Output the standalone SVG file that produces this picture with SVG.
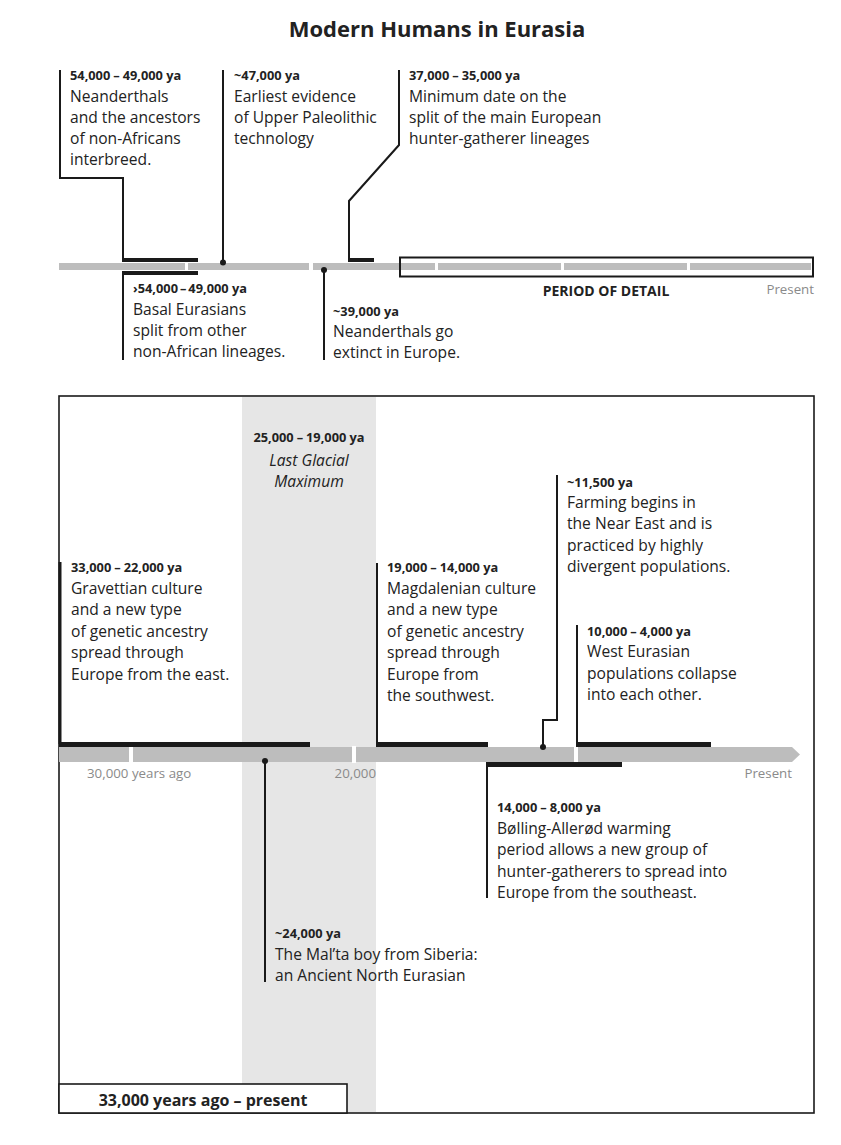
<svg xmlns="http://www.w3.org/2000/svg" width="841" height="1145" viewBox="0 0 841 1145">
<style>
text{font-family:"Open Sans","Noto Sans","Liberation Sans",sans-serif;fill:#222}
.t{font-size:15.6px}
.d{font-size:12.8px;font-weight:bold}
.g{font-size:13.3px;fill:#8a8a8a}
.ttl{font-size:22px;font-weight:bold}
.lead{stroke:#1a1a1a;stroke-width:2;fill:none}
.bar{fill:#bdbdbd}
.blk{fill:#1a1a1a}
.gap{fill:#fff}
</style>
<rect width="841" height="1145" fill="#fff"/>
<text class="ttl" x="437" y="37" text-anchor="middle">Modern Humans in Eurasia</text>

<g id="lower-frame">
<rect x="242" y="397" width="134" height="715" fill="#e6e6e6"/>
<rect x="59" y="396" width="755" height="717" fill="none" stroke="#1a1a1a" stroke-width="1.6"/>
<rect x="59" y="1084" width="288" height="29" fill="#fff" stroke="#1a1a1a" stroke-width="1.6"/>
<text x="203" y="1106" text-anchor="middle" style="font-size:16px;font-weight:bold">33,000 years ago – present</text>
</g>

<g id="top-timeline">
<rect class="bar" x="59" y="263" width="752" height="7"/>
<rect class="gap" x="185" y="262" width="3" height="9"/>
<rect class="gap" x="309" y="262" width="4" height="9"/>
<rect class="gap" x="435" y="262" width="3" height="9"/>
<rect class="gap" x="561" y="262" width="3" height="9"/>
<rect class="gap" x="687" y="262" width="3" height="9"/>
<rect x="400" y="257.5" width="413" height="19" fill="none" stroke="#1a1a1a" stroke-width="2"/>
<text x="606" y="296" text-anchor="middle" style="font-size:14px;font-weight:bold">PERIOD OF DETAIL</text>
<text class="g" x="814" y="294" text-anchor="end">Present</text>
</g>

<g id="bottom-timeline">
<path class="bar" d="M59,747 H792 L800,754.5 L792,762 H59 Z"/>
<rect class="gap" x="129" y="746" width="4" height="17"/>
<rect class="gap" x="352" y="746" width="4" height="17"/>
<rect class="gap" x="574" y="746" width="4" height="17"/>
<text class="g" x="87" y="778">30,000 years ago</text>
<text class="g" x="376" y="778" text-anchor="end">20,000</text>
<text class="g" x="792" y="778" text-anchor="end">Present</text>
</g>

<g id="connectors">
<rect class="blk" x="122" y="258" width="76" height="4"/>
<rect class="blk" x="122" y="271" width="76" height="4"/>
<polyline class="lead" points="60,70 60,178 123,178 123,258"/>
<line class="lead" x1="123" y1="275" x2="123" y2="360"/>
<line class="lead" x1="223" y1="70" x2="223" y2="262"/>
<circle cx="223" cy="262.5" r="3" fill="#1a1a1a"/>
<line class="lead" x1="324" y1="270" x2="324" y2="360"/>
<circle cx="324" cy="270" r="3" fill="#1a1a1a"/>
<rect class="blk" x="348" y="258" width="26" height="4"/>
<polyline class="lead" points="399,70 399,145 349,201 349,259"/>
<rect class="blk" x="59" y="742" width="251" height="5"/>
<line x1="60" y1="562" x2="60" y2="744" stroke="#1a1a1a" stroke-width="3"/>
<rect class="blk" x="376" y="742" width="112" height="5"/>
<line class="lead" x1="377" y1="563" x2="377" y2="744"/>
<polyline class="lead" points="557,475 557,720 543,720 543,747"/>
<circle cx="543" cy="747" r="3" fill="#1a1a1a"/>
<rect class="blk" x="576" y="742" width="135" height="5"/>
<line class="lead" x1="577" y1="625" x2="577" y2="744"/>
<rect class="blk" x="486" y="762" width="136" height="5"/>
<line class="lead" x1="487" y1="764" x2="487" y2="898"/>
<line class="lead" x1="265" y1="761" x2="265" y2="982"/>
<circle cx="265" cy="761" r="3" fill="#1a1a1a"/>
</g>

<g id="n-interbreed">
<text class="d" x="70" y="80">54,000<tspan dx="3">–</tspan><tspan dx="3">49,000 ya</tspan></text>
<text class="t" x="70" y="102">Neanderthals</text>
<text class="t" x="70" y="123">and the ancestors</text>
<text class="t" x="70" y="144">of non-Africans</text>
<text class="t" x="70" y="165">interbreed.</text>
</g>
<g id="n-upper-paleolithic">
<text class="d" x="234" y="80">~47,000 ya</text>
<text class="t" x="234" y="102">Earliest evidence</text>
<text class="t" x="234" y="123">of Upper Paleolithic</text>
<text class="t" x="234" y="144">technology</text>
</g>
<g id="n-split-european">
<text class="d" x="409" y="80">37,000<tspan dx="3">–</tspan><tspan dx="3">35,000 ya</tspan></text>
<text class="t" x="409" y="102">Minimum date on the</text>
<text class="t" x="409" y="123">split of the main European</text>
<text class="t" x="409" y="144">hunter-gatherer lineages</text>
</g>
<g id="n-basal">
<text class="d" x="133" y="293">›54,000<tspan dx="2">–</tspan><tspan dx="2">49,000 ya</tspan></text>
<text class="t" x="133" y="315">Basal Eurasians</text>
<text class="t" x="133" y="336">split from other</text>
<text class="t" x="133" y="357">non-African lineages.</text>
</g>
<g id="n-extinct">
<text class="d" x="333" y="316">~39,000 ya</text>
<text class="t" x="333" y="337">Neanderthals go</text>
<text class="t" x="333" y="358">extinct in Europe.</text>
</g>

<g id="n-lgm">
<text class="d" x="309" y="442" text-anchor="middle">25,000<tspan dx="3">–</tspan><tspan dx="3">19,000 ya</tspan></text>
<text class="t" x="309" y="466" text-anchor="middle" font-style="italic">Last Glacial</text>
<text class="t" x="309" y="487" text-anchor="middle" font-style="italic">Maximum</text>
</g>
<g id="n-gravettian">
<text class="d" x="71" y="572">33,000<tspan dx="3">–</tspan><tspan dx="3">22,000 ya</tspan></text>
<text class="t" x="71" y="594">Gravettian culture</text>
<text class="t" x="71" y="615">and a new type</text>
<text class="t" x="71" y="637">of genetic ancestry</text>
<text class="t" x="71" y="658">spread through</text>
<text class="t" x="71" y="680">Europe from the east.</text>
</g>
<g id="n-magdalenian">
<text class="d" x="387" y="572">19,000<tspan dx="3">–</tspan><tspan dx="3">14,000 ya</tspan></text>
<text class="t" x="387" y="594">Magdalenian culture</text>
<text class="t" x="387" y="615">and a new type</text>
<text class="t" x="387" y="637">of genetic ancestry</text>
<text class="t" x="387" y="658">spread through</text>
<text class="t" x="387" y="680">Europe from</text>
<text class="t" x="387" y="701">the southwest.</text>
</g>
<g id="n-farming">
<text class="d" x="567" y="487">~11,500 ya</text>
<text class="t" x="567" y="508">Farming begins in</text>
<text class="t" x="567" y="529">the Near East and is</text>
<text class="t" x="567" y="551">practiced by highly</text>
<text class="t" x="567" y="572">divergent populations.</text>
</g>
<g id="n-west-eurasian">
<text class="d" x="587" y="636">10,000<tspan dx="3">–</tspan><tspan dx="3">4,000 ya</tspan></text>
<text class="t" x="587" y="657">West Eurasian</text>
<text class="t" x="587" y="679">populations collapse</text>
<text class="t" x="587" y="700">into each other.</text>
</g>
<g id="n-bolling">
<text class="d" x="497" y="812">14,000<tspan dx="3">–</tspan><tspan dx="3">8,000 ya</tspan></text>
<text class="t" x="497" y="834">Bølling-Allerød warming</text>
<text class="t" x="497" y="855">period allows a new group of</text>
<text class="t" x="497" y="877">hunter-gatherers to spread into</text>
<text class="t" x="497" y="898">Europe from the southeast.</text>
</g>
<g id="n-malta">
<text class="d" x="275" y="938">~24,000 ya</text>
<text class="t" x="275" y="960">The Mal’ta boy from Siberia:</text>
<text class="t" x="275" y="981">an Ancient North Eurasian</text>
</g>
</svg>
